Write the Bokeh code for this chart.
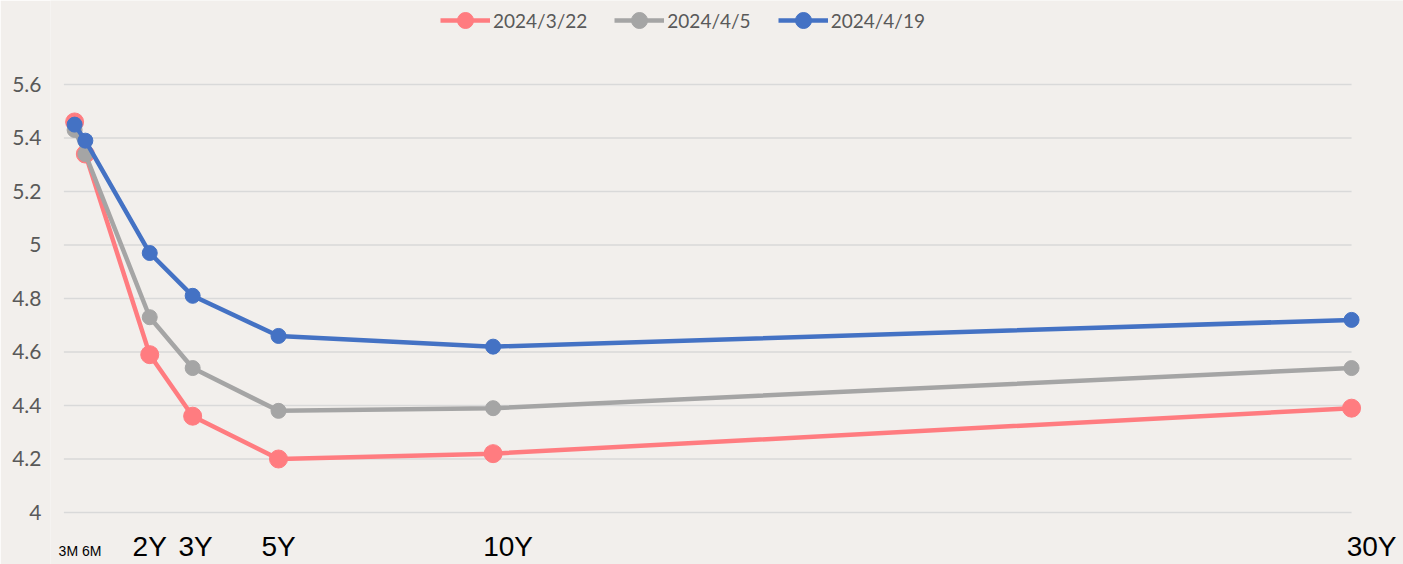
from bokeh.plotting import figure
from bokeh.models import (Range1d, FixedTicker, NumeralTickFormatter, Legend, LegendItem, ColumnDataSource)
from bokeh.core.properties import value
from bokeh.embed import file_html
from bokeh.resources import INLINE

# ---- data ----
tenor_labels = ["3M", "6M", "2Y", "3Y", "5Y", "10Y", "30Y"]
tenor_years = [0.25, 0.5, 2, 3, 5, 10, 30]
series_names = ["2024/3/22", "2024/4/5", "2024/4/19"]
yield_0322 = [5.46, 5.34, 4.59, 4.36, 4.20, 4.22, 4.39]
yield_0405 = [5.43, 5.34, 4.73, 4.54, 4.38, 4.39, 4.54]
yield_0419 = [5.45, 5.39, 4.97, 4.81, 4.66, 4.62, 4.72]
y_ticks = [4.0, 4.2, 4.4, 4.6, 4.8, 5.0, 5.2, 5.4, 5.6]

BG = "#F2EFEC"
colors = ["#FF7C80", "#A5A5A5", "#4472C4"]
msizes = [18, 15, 15]

p = figure(width=1403, height=564, output_backend="svg", toolbar_location=None,
           x_range=Range1d(-0.312, 31.21), y_range=Range1d(3.8056, 5.914),
           x_axis_location=None,
           min_border_left=50, min_border_right=0, min_border_top=0, min_border_bottom=0)
p.background_fill_color = BG
p.border_fill_color = BG
p.outline_line_color = None
p.xgrid.visible = False
p.ygrid.visible = False

ya = p.yaxis[0]
ya.ticker = FixedTicker(ticks=y_ticks)
ya.formatter = NumeralTickFormatter(format="0.[0]")
ya.axis_line_color = None
ya.major_tick_line_color = None
ya.minor_tick_line_color = None
ya.major_tick_out = 0
ya.major_label_standoff = 9
ya.major_label_text_font = "Lato"
ya.major_label_text_font_size = "21px"
ya.major_label_text_color = "#595959"

# horizontal gridlines spanning the category axis
n = len(y_ticks)
p.segment(x0=[0] * n, x1=[tenor_years[-1]] * n, y0=y_ticks, y1=y_ticks,
          line_color="#D9D9D9", line_width=1.5)

items = []
for name, ys, c, ms in zip(series_names, [yield_0322, yield_0405, yield_0419], colors, msizes):
    ln = p.line(tenor_years, ys, line_color=c, line_width=4.5)
    sc = p.scatter(tenor_years, ys, size=ms, fill_color=c, line_color=c, marker="circle")
    items.append(LegendItem(label=name, renderers=[ln, sc]))

legend = Legend(items=items, orientation="horizontal", location=(390, 524),
                background_fill_alpha=0, border_line_color=None, padding=0, margin=0,
                spacing=27, label_standoff=3, glyph_width=50, glyph_height=40,
                label_text_font="Lato", label_text_font_size="19px",
                label_text_color="#595959", label_height=40)
p.add_layout(legend, "center")

# x category labels
label_y = 3.929
small_x = [x for x in tenor_years if x < 1]
small_txt = " ".join(l for l, x in zip(tenor_labels, tenor_years) if x < 1)
p.text(x=[sum(small_x) / len(small_x)], y=[label_y], text=[small_txt], y_offset=12,
       text_font=value("Liberation Sans"), text_font_size="14px", text_color="#000000",
       text_align="center", text_baseline="top")
offsets = {"3Y": 3, "10Y": 15, "30Y": 20}
big_lab = [l for l, x in zip(tenor_labels, tenor_years) if x >= 1]
big_x = [x for x in tenor_years if x >= 1]
src = ColumnDataSource(dict(x=big_x, y=[label_y] * len(big_x), t=big_lab,
                            dx=[offsets.get(l, 0) for l in big_lab]))
p.text(x="x", y="y", text="t", x_offset="dx", source=src,
       text_font=value("Liberation Sans"), text_font_size="28px", text_color="#000000",
       text_align="center", text_baseline="top")

open("out.html", "w").write(file_html(p, INLINE))
